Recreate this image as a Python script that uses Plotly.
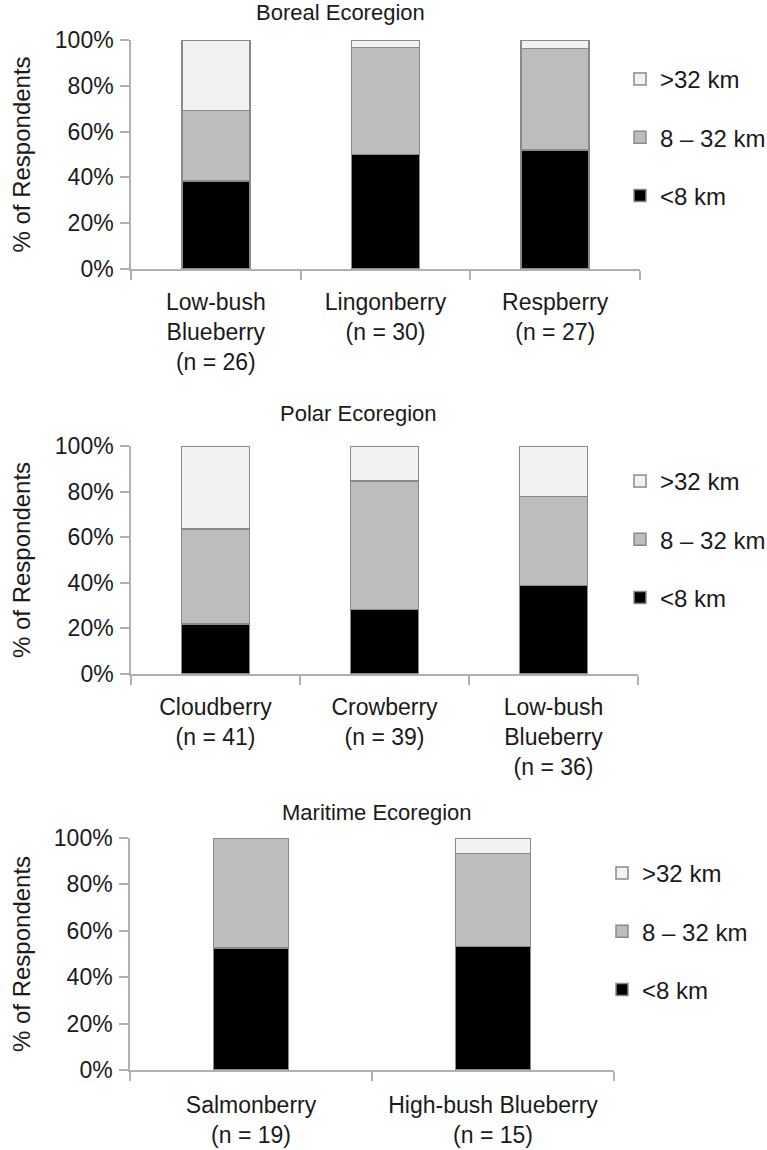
import plotly.graph_objects as go

W, H = 767, 1150

series_names = ["<8 km", "8 – 32 km", ">32 km"]
series_colors = ["#000000", "#bdbdbd", "#f2f2f2"]
legend_ranks = [3, 2, 1]

boreal_categories = ["Low-bush<br>Blueberry<br>(n = 26)", "Lingonberry<br>(n = 30)", "Respberry<br>(n = 27)"]
boreal_lt8 = [38.5, 50.0, 51.9]
boreal_8to32 = [30.8, 46.7, 44.4]
boreal_gt32 = [30.7, 3.3, 3.7]

polar_categories = ["Cloudberry<br>(n = 41)", "Crowberry<br>(n = 39)", "Low-bush<br>Blueberry<br>(n = 36)"]
polar_lt8 = [22.0, 28.2, 38.9]
polar_8to32 = [41.5, 56.4, 38.9]
polar_gt32 = [36.5, 15.4, 22.2]

maritime_categories = ["Salmonberry<br>(n = 19)", "High-bush Blueberry<br>(n = 15)"]
maritime_lt8 = [52.6, 53.3]
maritime_8to32 = [47.4, 40.0]
maritime_gt32 = [0.0, 6.7]

panel_titles = ["Boreal Ecoregion", "Polar Ecoregion", "Maritime Ecoregion"]
y_ticks = [0, 20, 40, 60, 80, 100]
y_ticktext = [f"{v}%" for v in y_ticks]

FONT = "Liberation Sans, Arial, Helvetica, sans-serif"
TXT = "#1a1a1a"
AXC = "#b0b0b0"


def px_x(v):
    return v / W


def px_y(v):
    return 1 - v / H


panels = [
    dict(cats=boreal_categories, vals=[boreal_lt8, boreal_8to32, boreal_gt32],
         xd=(131, 640), yd=(40, 269), bw=0.40, title_x=340, title_y=13,
         leg=(620, 57), cat_off=12),
    dict(cats=polar_categories, vals=[polar_lt8, polar_8to32, polar_gt32],
         xd=(131, 638), yd=(446, 674), bw=0.40, title_x=358, title_y=413,
         leg=(620, 459), cat_off=12),
    dict(cats=maritime_categories, vals=[maritime_lt8, maritime_8to32, maritime_gt32],
         xd=(130, 614), yd=(838, 1070), bw=0.31, title_x=377, title_y=812,
         leg=(602, 851), cat_off=14),
]

fig = go.Figure()
layout = dict(
    width=W, height=H,
    margin=dict(l=0, r=0, t=0, b=0, autoexpand=False),
    paper_bgcolor="white", plot_bgcolor="white",
    barmode="stack", font=dict(family=FONT, size=22, color=TXT),
    annotations=[],
)

for i, p in enumerate(panels):
    n = i + 1
    sfx = "" if n == 1 else str(n)
    legname = "legend" + sfx
    for k in range(3):
        fig.add_trace(go.Bar(
            x=p["cats"], y=p["vals"][k], name=series_names[k],
            marker=dict(color=series_colors[k],
                        line=dict(color="#8a8a8a", width=1.5)),
            width=p["bw"], xaxis="x" + sfx, yaxis="y" + sfx,
            legend=legname, legendgroup=series_names[k] + sfx,
            legendrank=legend_ranks[k], hoverinfo="skip",
        ))
    layout["xaxis" + sfx] = dict(
        domain=[px_x(p["xd"][0]), px_x(p["xd"][1])], anchor="y" + sfx,
        type="category", showline=True, linecolor=AXC, linewidth=1.5,
        ticks="outside", tickson="boundaries", ticklen=9, tickcolor=AXC,
        tickwidth=1.5, showgrid=False, zeroline=False,
        tickfont=dict(size=23, color=TXT), ticklabelstandoff=p["cat_off"],
        fixedrange=True,
    )
    layout["yaxis" + sfx] = dict(
        domain=[px_y(p["yd"][1]), px_y(p["yd"][0])], anchor="x" + sfx,
        range=[0, 100], tickmode="array", tickvals=y_ticks, ticktext=y_ticktext,
        showline=True, linecolor=AXC, linewidth=1.5, ticks="outside",
        ticklen=9, tickcolor=AXC, tickwidth=1.5, showgrid=False,
        zeroline=False, tickfont=dict(size=23, color=TXT),
        ticklabelstandoff=2, fixedrange=True,
    )
    layout[legname] = dict(
        x=px_x(p["leg"][0]), y=px_y(p["leg"][1]), xanchor="left", yanchor="top",
        traceorder="grouped", tracegroupgap=24,
        font=dict(size=24, color=TXT), bgcolor="rgba(0,0,0,0)",
        itemclick=False, itemdoubleclick=False,
    )
    layout["annotations"].append(dict(
        text=panel_titles[i], x=px_x(p["title_x"]), y=px_y(p["title_y"]),
        xref="paper", yref="paper", xanchor="center", yanchor="middle",
        showarrow=False, font=dict(size=22, color=TXT),
    ))
    layout["annotations"].append(dict(
        text="% of Respondents", x=px_x(21), y=px_y((p["yd"][0] + p["yd"][1]) / 2),
        xref="paper", yref="paper", xanchor="center", yanchor="middle",
        textangle=-90, showarrow=False, font=dict(size=24, color=TXT),
    ))

fig.update_layout(**layout)
fig.write_html(
    "out.html",
    config={"displayModeBar": False},
    post_script="document.body.style.margin='0';document.body.style.overflow='hidden';",
)
